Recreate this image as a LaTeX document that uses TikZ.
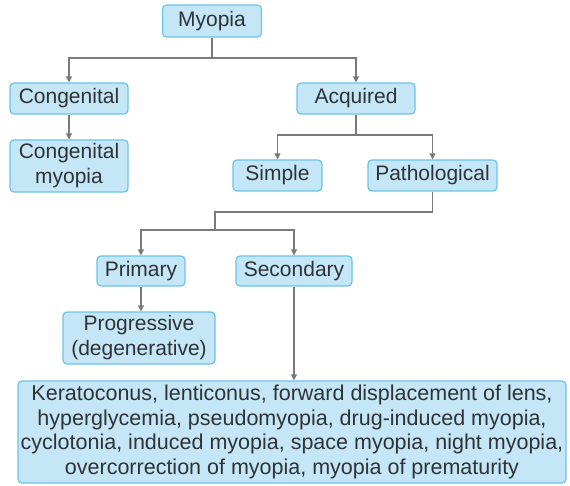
\documentclass[tikz,border=0pt]{standalone}
\usepackage{fontspec}
\setmainfont{Liberation Sans}
\usetikzlibrary{arrows.meta}
\definecolor{boxfill}{HTML}{C4E6F6}
\definecolor{boxdraw}{HTML}{6CC3E8}
\definecolor{txt}{HTML}{2E3338}
\definecolor{lin}{HTML}{7A7A7A}
\tikzset{
  bx/.style={draw=boxdraw, fill=boxfill, line width=1.2pt, rounded corners=4pt,
    text=txt, font=\fontsize{21}{25}\selectfont, align=center, inner sep=0pt},
  conn/.style={draw=lin, line width=1.2pt},
  arr/.style={conn, -{Triangle[width=6pt,length=6pt]}}
}
\begin{document}
\begin{tikzpicture}[x=1pt,y=-1pt]
\useasboundingbox (0,0) rectangle (570,486);
\node[bx, minimum width=99pt, minimum height=32pt] (myopia) at (212,21) {Myopia};
\node[bx, minimum width=118pt, minimum height=31pt] (cong) at (69,98.5) {Congenital};
\node[bx, minimum width=118pt, minimum height=52pt] (congm) at (69,166) {Congenital\\myopia};
\node[bx, minimum width=118pt, minimum height=31pt] (acq) at (356,98.5) {Acquired};
\node[bx, minimum width=89pt, minimum height=31pt] (simple) at (277.5,175.5) {Simple};
\node[bx, minimum width=129pt, minimum height=31pt] (path) at (432.5,175.5) {Pathological};
\node[bx, minimum width=88pt, minimum height=30pt] (prim) at (141,271) {Primary};
\node[bx, minimum width=116pt, minimum height=30pt] (sec) at (294,271) {Secondary};
\node[bx, minimum width=152pt, minimum height=52pt] (prog) at (139,338) {Progressive\\(degenerative)};
\node[bx, minimum width=548pt, minimum height=102pt, font=\fontsize{21.5}{24.5}\selectfont] (list) at (292,432) {Keratoconus, lenticonus, forward displacement of lens,\\hyperglycemia, pseudomyopia, drug-induced myopia,\\cyclotonia, induced myopia, space myopia, night myopia,\\overcorrection of myopia, myopia of prematurity};
% Myopia -> Congenital, Acquired
\draw[conn] (myopia.south) -- (212,58);
\draw[arr] (212,58) -| (cong.north);
\draw[arr] (212,58) -| (acq.north);
\draw[arr] (cong.south) -- (congm.north);
% Acquired -> Simple, Pathological
\draw[conn] (acq.south) -- (356,135);
\draw[arr] (356,135) -| (simple.north);
\draw[arr] (356,135) -| (path.north);
% Pathological -> Primary, Secondary
\draw[conn] (path.south) -- (432.5,212) -- (215,212) -- (215,230);
\draw[arr] (215,230) -| (prim.north);
\draw[arr] (215,230) -| (sec.north);
\draw[arr] (prim.south) -- (prim.south |- prog.north);
\draw[arr] (sec.south) -- (sec.south |- list.north);
\end{tikzpicture}
\end{document}
